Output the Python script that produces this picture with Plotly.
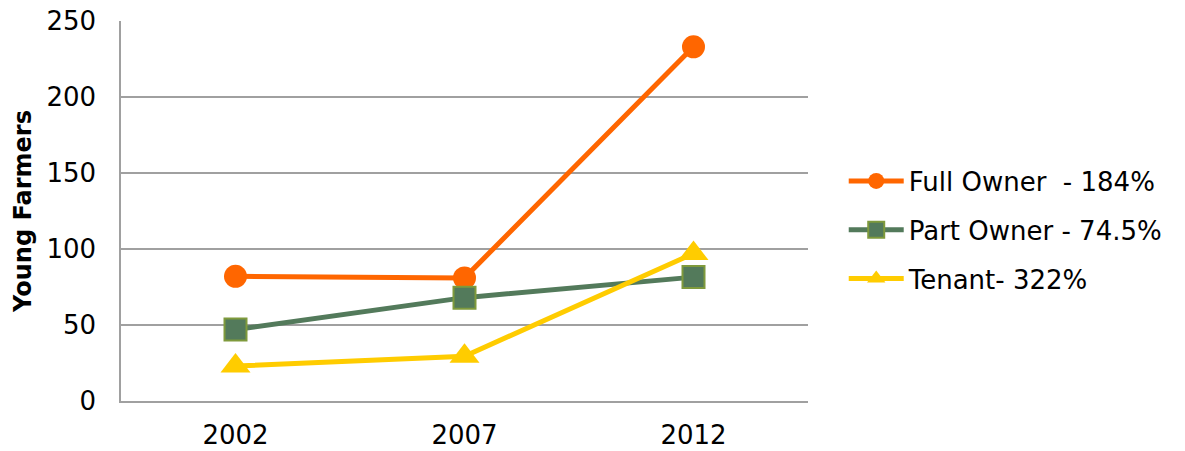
import plotly.graph_objects as go

years = ["2002", "2007", "2012"]
full_owner = [82, 81, 233]
part_owner = [47, 68, 81.5]
tenant = [23, 29.5, 97]
names = ["Full Owner  - 184%", "Part Owner - 74.5%", "Tenant- 322%"]
y_ticks = [0, 50, 100, 150, 200, 250]

FONT = "DejaVu Sans, Verdana, sans-serif"
GRID = "#A0A0A0"

fig = go.Figure()
fig.add_trace(go.Scatter(
    x=years, y=full_owner, name=names[0], mode="lines+markers", legendgroup="a",
    line=dict(color="#FF6600", width=5),
    marker=dict(symbol="circle", size=23, color="#FF6600", line=dict(width=0)),
))
fig.add_trace(go.Scatter(
    x=years, y=part_owner, name=names[1], mode="lines+markers", legendgroup="b",
    line=dict(color="#537A5B", width=5),
    marker=dict(symbol="square", size=22, color="#537A5B", line=dict(width=2, color="#7F9A3C")),
))
fig.add_trace(go.Scatter(
    x=years, y=tenant, name=names[2], mode="lines+markers", legendgroup="c",
    line=dict(color="#FFCC00", width=5),
    marker=dict(symbol="triangle-up", size=26, color="#FFCC00", line=dict(width=0)),
))

fig.update_layout(
    width=1185, height=451,
    margin=dict(l=121, r=377, t=21, b=50),
    paper_bgcolor="white", plot_bgcolor="white",
    font=dict(family=FONT, color="#000000", size=26),
    legend=dict(
        x=1.052, y=0.45, xanchor="left", yanchor="middle",
        font=dict(size=26, family=FONT), itemwidth=55,
        traceorder="grouped", tracegroupgap=12, bgcolor="rgba(0,0,0,0)",
    ),
    showlegend=True,
)
fig.update_xaxes(
    type="category", range=[-0.5, 2.5], automargin=False,
    showgrid=False, showline=True, linecolor=GRID, linewidth=1.5,
    ticks="", tickfont=dict(size=26, family=FONT), ticklabelstandoff=10,
)
fig.update_yaxes(
    range=[0, 250], tickvals=y_ticks, showgrid=True, gridcolor=GRID, gridwidth=1.5,
    showline=True, linecolor=GRID, linewidth=1.5, zeroline=False, automargin=False,
    ticks="", tickfont=dict(size=26, family=FONT), ticklabelstandoff=18,
    title=dict(text="<b>Young Farmers</b>", font=dict(size=24, family=FONT), standoff=8),
)

fig.write_html("out.html")
